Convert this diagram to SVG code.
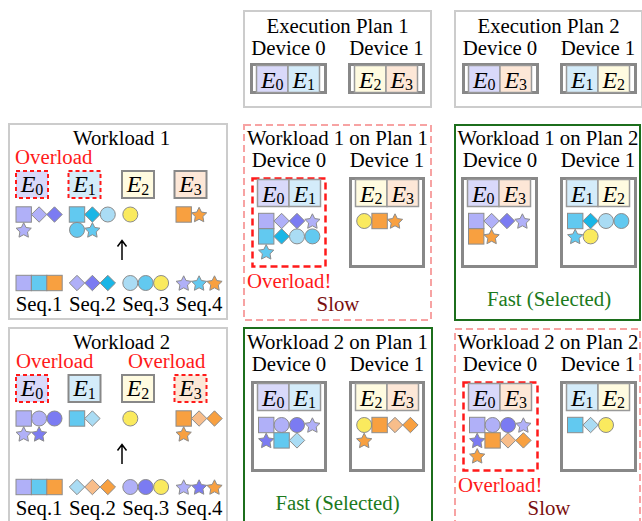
<svg xmlns="http://www.w3.org/2000/svg" xmlns:xlink="http://www.w3.org/1999/xlink" width="642" height="521" viewBox="0 0 642 521">
  <style>
    .t { font-family: "Liberation Serif", "Times New Roman", serif; font-size: 20.8px; fill: #000; }
    .mid { text-anchor: middle; }
    .red { fill: #ff1a1a; }
    .slow { fill: #7a0f0f; }
    .fast { fill: #1c7a1c; }
    .it { font-style: italic; font-size: 24px; }
    .sb { font-size: 16px; }
    .box { fill: #fff; stroke: #cccccc; stroke-width: 2; }
    .pink { fill: #fff; stroke: #f7a3a3; stroke-width: 2; stroke-dasharray: 7 4; }
    .green { fill: #fff; stroke: #1c6e1c; stroke-width: 2; }
    .dev { fill: #fff; stroke: #888; stroke-width: 3; }
    .devx { fill: #fff; stroke: #ff1a1a; stroke-width: 2.5; stroke-dasharray: 7 4; }
    .cell { stroke: #999; stroke-width: 1.5; }
    .ebox { stroke: #888; stroke-width: 2; }
    .ebx { stroke: #ff1a1a; stroke-width: 2; stroke-dasharray: 4 3; }
    .f0 { fill: #d9d9fa; }
    .f1 { fill: #d4ecfa; }
    .f2 { fill: #fffbe0; }
    .f3 { fill: #fde7d7; }
    .tok { stroke: #8c8c8c; stroke-width: 1; }
    .lav { fill: #b0b0f8; }
    .pur { fill: #7b7bf2; }
    .sky { fill: #62c9f0; }
    .cyn { fill: #1ab6e6; }
    .pale { fill: #aadcf4; }
    .yel { fill: #faea5e; }
    .org { fill: #f8a040; }
    .lor { fill: #f8bd8a; }
    .arr { fill: none; stroke: #000; stroke-width: 1.5; }
  </style>
  <defs>
    <rect id="sq" class="tok" x="-7.7" y="-7.7" width="15.4" height="15.4"/>
    <polygon id="dia" class="tok" points="0,-7.7 7.7,0 0,7.7 -7.7,0"/>
    <circle id="cir" class="tok" r="7.5"/>
    <polygon id="star" class="tok" transform="translate(0,0.8)" points="0,-8 2.35,-3.24 7.61,-2.47 3.8,1.24 4.7,6.47 0,4 -4.7,6.47 -3.8,1.24 -7.61,-2.47 -2.35,-3.24"/>
  </defs>

  <!-- execution plans -->
  <g id="plan1">
    <rect class="box" x="244" y="11" width="187" height="96"/>
    <text class="t mid" x="337.5" y="33">Execution Plan 1</text>
    <text class="t mid" x="288.5" y="55">Device 0</text>
    <text class="t mid" x="386.5" y="55">Device 1</text>
    <g transform="translate(250,63)">
      <rect class="dev" x="1.5" y="1.5" width="74" height="28"/>
      <rect class="cell f0" x="6.5" y="2.5" width="31.5" height="27"/>
      <rect class="cell f1" x="38" y="2.5" width="31.5" height="27"/>
      <text class="t mid" x="22.25" y="24.5"><tspan class="it">E</tspan><tspan class="sb" dy="2.5">0</tspan></text>
      <text class="t mid" x="53.75" y="24.5"><tspan class="it">E</tspan><tspan class="sb" dy="2.5">1</tspan></text>
    </g>
    <g transform="translate(348,63)">
      <rect class="dev" x="1.5" y="1.5" width="74" height="28"/>
      <rect class="cell f2" x="6.5" y="2.5" width="31.5" height="27"/>
      <rect class="cell f3" x="38" y="2.5" width="31.5" height="27"/>
      <text class="t mid" x="22.25" y="24.5"><tspan class="it">E</tspan><tspan class="sb" dy="2.5">2</tspan></text>
      <text class="t mid" x="53.75" y="24.5"><tspan class="it">E</tspan><tspan class="sb" dy="2.5">3</tspan></text>
    </g>
  </g>

  <g id="plan2">
    <rect class="box" x="455" y="11" width="187" height="96"/>
    <text class="t mid" x="548.5" y="33">Execution Plan 2</text>
    <text class="t mid" x="500" y="55">Device 0</text>
    <text class="t mid" x="598" y="55">Device 1</text>
    <g transform="translate(462,63)">
      <rect class="dev" x="1.5" y="1.5" width="74" height="28"/>
      <rect class="cell f0" x="6.5" y="2.5" width="31.5" height="27"/>
      <rect class="cell f3" x="38" y="2.5" width="31.5" height="27"/>
      <text class="t mid" x="22.25" y="24.5"><tspan class="it">E</tspan><tspan class="sb" dy="2.5">0</tspan></text>
      <text class="t mid" x="53.75" y="24.5"><tspan class="it">E</tspan><tspan class="sb" dy="2.5">3</tspan></text>
    </g>
    <g transform="translate(560,63)">
      <rect class="dev" x="1.5" y="1.5" width="74" height="28"/>
      <rect class="cell f1" x="6.5" y="2.5" width="31.5" height="27"/>
      <rect class="cell f2" x="38" y="2.5" width="31.5" height="27"/>
      <text class="t mid" x="22.25" y="24.5"><tspan class="it">E</tspan><tspan class="sb" dy="2.5">1</tspan></text>
      <text class="t mid" x="53.75" y="24.5"><tspan class="it">E</tspan><tspan class="sb" dy="2.5">2</tspan></text>
    </g>
  </g>

  <!-- workload 1 -->
  <g id="workload1">
    <rect class="box" x="9" y="124" width="218" height="195"/>
    <text class="t mid" x="121.5" y="145">Workload 1</text>
    <text class="t red" x="15" y="164">Overload</text>
    <rect class="ebx f0" x="16" y="171" width="32" height="27"/>
    <rect class="ebx f1" x="68.5" y="171" width="32" height="27"/>
    <rect class="ebox f2" x="122" y="171" width="32" height="27"/>
    <rect class="ebox f3" x="174.5" y="171" width="32" height="27"/>
    <text class="t mid" x="32" y="192"><tspan class="it">E</tspan><tspan class="sb" dy="2.5">0</tspan></text>
    <text class="t mid" x="84.5" y="192"><tspan class="it">E</tspan><tspan class="sb" dy="2.5">1</tspan></text>
    <text class="t mid" x="138" y="192"><tspan class="it">E</tspan><tspan class="sb" dy="2.5">2</tspan></text>
    <text class="t mid" x="190.5" y="192"><tspan class="it">E</tspan><tspan class="sb" dy="2.5">3</tspan></text>
    <!-- tokens routed to each expert -->
    <use href="#sq" x="23.7" y="214.5" class="lav"/>
    <use href="#dia" x="39.1" y="214.5" class="lav"/>
    <use href="#dia" x="54.5" y="214.5" class="pur"/>
    <use href="#star" x="23.7" y="229.9" class="lav"/>
    <use href="#sq" x="77" y="214.5" class="sky"/>
    <use href="#dia" x="92.4" y="214.5" class="cyn"/>
    <use href="#cir" x="107.8" y="214.5" class="pale"/>
    <use href="#cir" x="77" y="229.9" class="sky"/>
    <use href="#star" x="92.4" y="229.9" class="sky"/>
    <use href="#cir" x="130.3" y="214.5" class="yel"/>
    <use href="#sq" x="183.7" y="214.5" class="org"/>
    <use href="#star" x="199.1" y="214.5" class="org"/>
    <!-- input sequences -->
    <use href="#sq" x="23.7" y="283" class="lav"/>
    <use href="#sq" x="39.1" y="283" class="sky"/>
    <use href="#sq" x="54.5" y="283" class="org"/>
    <use href="#dia" x="77" y="283" class="lav"/>
    <use href="#dia" x="92.4" y="283" class="pur"/>
    <use href="#dia" x="107.8" y="283" class="cyn"/>
    <use href="#cir" x="130.3" y="283" class="pale"/>
    <use href="#cir" x="145.7" y="283" class="sky"/>
    <use href="#cir" x="161.1" y="283" class="yel"/>
    <use href="#star" x="183.7" y="283" class="lav"/>
    <use href="#star" x="199.1" y="283" class="sky"/>
    <use href="#star" x="214.5" y="283" class="org"/>
    <text class="t mid" x="39.1" y="311">Seq.1</text>
    <text class="t mid" x="92.4" y="311">Seq.2</text>
    <text class="t mid" x="145.7" y="311">Seq.3</text>
    <text class="t mid" x="199.1" y="311">Seq.4</text>
  </g>

  <!-- workload 2 -->
  <g id="workload2">
    <rect class="box" x="9" y="328" width="218" height="200"/>
    <text class="t mid" x="121.5" y="349">Workload 2</text>
    <text class="t red" x="16" y="368">Overload</text>
    <text class="t red" x="128" y="368">Overload</text>
    <rect class="ebx f0" x="16" y="375" width="32" height="27"/>
    <rect class="ebox f1" x="68.5" y="375" width="32" height="27"/>
    <rect class="ebox f2" x="122" y="375" width="32" height="27"/>
    <rect class="ebx f3" x="174.5" y="375" width="32" height="27"/>
    <text class="t mid" x="32" y="396"><tspan class="it">E</tspan><tspan class="sb" dy="2.5">0</tspan></text>
    <text class="t mid" x="84.5" y="396"><tspan class="it">E</tspan><tspan class="sb" dy="2.5">1</tspan></text>
    <text class="t mid" x="138" y="396"><tspan class="it">E</tspan><tspan class="sb" dy="2.5">2</tspan></text>
    <text class="t mid" x="190.5" y="396"><tspan class="it">E</tspan><tspan class="sb" dy="2.5">3</tspan></text>
    <use href="#sq" x="23.7" y="418.5" class="lav"/>
    <use href="#cir" x="39.1" y="418.5" class="lav"/>
    <use href="#cir" x="54.5" y="418.5" class="pur"/>
    <use href="#star" x="23.7" y="433.9" class="lav"/>
    <use href="#star" x="39.1" y="433.9" class="pur"/>
    <use href="#sq" x="77" y="418.5" class="sky"/>
    <use href="#dia" x="92.4" y="418.5" class="pale"/>
    <use href="#cir" x="130.3" y="418.5" class="yel"/>
    <use href="#sq" x="183.7" y="418.5" class="org"/>
    <use href="#dia" x="199.1" y="418.5" class="lor"/>
    <use href="#dia" x="214.5" y="418.5" class="org"/>
    <use href="#star" x="183.7" y="433.9" class="org"/>
    <use href="#sq" x="23.7" y="487" class="lav"/>
    <use href="#sq" x="39.1" y="487" class="sky"/>
    <use href="#sq" x="54.5" y="487" class="org"/>
    <use href="#dia" x="77" y="487" class="pale"/>
    <use href="#dia" x="92.4" y="487" class="lor"/>
    <use href="#dia" x="107.8" y="487" class="org"/>
    <use href="#cir" x="130.3" y="487" class="lav"/>
    <use href="#cir" x="145.7" y="487" class="pur"/>
    <use href="#cir" x="161.1" y="487" class="yel"/>
    <use href="#star" x="183.7" y="487" class="lav"/>
    <use href="#star" x="199.1" y="487" class="pur"/>
    <use href="#star" x="214.5" y="487" class="org"/>
    <text class="t mid" x="39.1" y="515">Seq.1</text>
    <text class="t mid" x="92.4" y="515">Seq.2</text>
    <text class="t mid" x="145.7" y="515">Seq.3</text>
    <text class="t mid" x="199.1" y="515">Seq.4</text>
  </g>

  <!-- workload 1 on plan 1 -->
  <g id="w1p1">
    <rect class="pink" x="244" y="125" width="187" height="195"/>
    <text class="t mid" x="337.5" y="145">Workload 1 on Plan 1</text>
    <text class="t mid" x="289" y="167">Device 0</text>
    <text class="t mid" x="387" y="167">Device 1</text>
    <g transform="translate(251,177)">
      <rect class="devx" x="1.5" y="1.5" width="73" height="88"/>
      <rect class="cell f0" x="6.5" y="2.5" width="31.5" height="27"/>
      <rect class="cell f1" x="38" y="2.5" width="31.5" height="27"/>
      <text class="t mid" x="22.25" y="24.5"><tspan class="it">E</tspan><tspan class="sb" dy="2.5">0</tspan></text>
      <text class="t mid" x="53.75" y="24.5"><tspan class="it">E</tspan><tspan class="sb" dy="2.5">1</tspan></text>
      <use href="#sq" x="15.2" y="44" class="lav"/>
      <use href="#dia" x="30.6" y="44" class="lav"/>
      <use href="#dia" x="46" y="44" class="pur"/>
      <use href="#star" x="61.4" y="44" class="lav"/>
      <use href="#sq" x="15.2" y="59.4" class="sky"/>
      <use href="#dia" x="30.6" y="59.4" class="cyn"/>
      <use href="#cir" x="46" y="59.4" class="pale"/>
      <use href="#cir" x="61.4" y="59.4" class="sky"/>
      <use href="#star" x="15.2" y="74.8" class="sky"/>
    </g>
    <g transform="translate(349,177)">
      <rect class="dev" x="1.5" y="1.5" width="73" height="88"/>
      <rect class="cell f2" x="6.5" y="2.5" width="31.5" height="27"/>
      <rect class="cell f3" x="38" y="2.5" width="31.5" height="27"/>
      <text class="t mid" x="22.25" y="24.5"><tspan class="it">E</tspan><tspan class="sb" dy="2.5">2</tspan></text>
      <text class="t mid" x="53.75" y="24.5"><tspan class="it">E</tspan><tspan class="sb" dy="2.5">3</tspan></text>
      <use href="#cir" x="15.2" y="44" class="yel"/>
      <use href="#sq" x="30.6" y="44" class="org"/>
      <use href="#star" x="46" y="44" class="org"/>
    </g>
    <text class="t red" x="247" y="288">Overload!</text>
    <text class="t mid slow" x="338" y="311">Slow</text>
  </g>

  <!-- workload 1 on plan 2 -->
  <g id="w1p2">
    <rect class="green" x="455" y="125" width="185" height="195"/>
    <text class="t mid" x="548" y="145">Workload 1 on Plan 2</text>
    <text class="t mid" x="500" y="167">Device 0</text>
    <text class="t mid" x="598" y="167">Device 1</text>
    <g transform="translate(461,177)">
      <rect class="dev" x="1.5" y="1.5" width="74" height="88"/>
      <rect class="cell f0" x="6.5" y="2.5" width="31.5" height="27"/>
      <rect class="cell f3" x="38" y="2.5" width="31.5" height="27"/>
      <text class="t mid" x="22.25" y="24.5"><tspan class="it">E</tspan><tspan class="sb" dy="2.5">0</tspan></text>
      <text class="t mid" x="53.75" y="24.5"><tspan class="it">E</tspan><tspan class="sb" dy="2.5">3</tspan></text>
      <use href="#sq" x="15.2" y="44" class="lav"/>
      <use href="#dia" x="30.6" y="44" class="lav"/>
      <use href="#dia" x="46" y="44" class="pur"/>
      <use href="#star" x="61.4" y="44" class="lav"/>
      <use href="#sq" x="15.2" y="59.4" class="org"/>
      <use href="#star" x="30.6" y="59.4" class="org"/>
    </g>
    <g transform="translate(560,177)">
      <rect class="dev" x="1.5" y="1.5" width="74" height="88"/>
      <rect class="cell f1" x="6.5" y="2.5" width="31.5" height="27"/>
      <rect class="cell f2" x="38" y="2.5" width="31.5" height="27"/>
      <text class="t mid" x="22.25" y="24.5"><tspan class="it">E</tspan><tspan class="sb" dy="2.5">1</tspan></text>
      <text class="t mid" x="53.75" y="24.5"><tspan class="it">E</tspan><tspan class="sb" dy="2.5">2</tspan></text>
      <use href="#sq" x="15.2" y="44" class="sky"/>
      <use href="#dia" x="30.6" y="44" class="cyn"/>
      <use href="#cir" x="46" y="44" class="pale"/>
      <use href="#cir" x="61.4" y="44" class="sky"/>
      <use href="#star" x="15.2" y="59.4" class="sky"/>
      <use href="#cir" x="30.6" y="59.4" class="yel"/>
    </g>
    <text class="t mid fast" x="549" y="306">Fast (Selected)</text>
  </g>

  <!-- workload 2 on plan 1 -->
  <g id="w2p1">
    <rect class="green" x="244" y="328" width="188" height="200"/>
    <text class="t mid" x="337.5" y="349">Workload 2 on Plan 1</text>
    <text class="t mid" x="289" y="371">Device 0</text>
    <text class="t mid" x="387" y="371">Device 1</text>
    <g transform="translate(251,381)">
      <rect class="dev" x="1.5" y="1.5" width="73" height="88"/>
      <rect class="cell f0" x="6.5" y="2.5" width="31.5" height="27"/>
      <rect class="cell f1" x="38" y="2.5" width="31.5" height="27"/>
      <text class="t mid" x="22.25" y="24.5"><tspan class="it">E</tspan><tspan class="sb" dy="2.5">0</tspan></text>
      <text class="t mid" x="53.75" y="24.5"><tspan class="it">E</tspan><tspan class="sb" dy="2.5">1</tspan></text>
      <use href="#sq" x="15.2" y="44" class="lav"/>
      <use href="#cir" x="30.6" y="44" class="lav"/>
      <use href="#cir" x="46" y="44" class="pur"/>
      <use href="#star" x="61.4" y="44" class="lav"/>
      <use href="#star" x="15.2" y="59.4" class="pur"/>
      <use href="#sq" x="30.6" y="59.4" class="sky"/>
      <use href="#dia" x="46" y="59.4" class="pale"/>
    </g>
    <g transform="translate(349,381)">
      <rect class="dev" x="1.5" y="1.5" width="73" height="88"/>
      <rect class="cell f2" x="6.5" y="2.5" width="31.5" height="27"/>
      <rect class="cell f3" x="38" y="2.5" width="31.5" height="27"/>
      <text class="t mid" x="22.25" y="24.5"><tspan class="it">E</tspan><tspan class="sb" dy="2.5">2</tspan></text>
      <text class="t mid" x="53.75" y="24.5"><tspan class="it">E</tspan><tspan class="sb" dy="2.5">3</tspan></text>
      <use href="#cir" x="15.2" y="44" class="yel"/>
      <use href="#sq" x="30.6" y="44" class="org"/>
      <use href="#dia" x="46" y="44" class="lor"/>
      <use href="#dia" x="61.4" y="44" class="org"/>
      <use href="#star" x="15.2" y="59.4" class="org"/>
    </g>
    <text class="t mid fast" x="337.5" y="510">Fast (Selected)</text>
  </g>

  <!-- workload 2 on plan 2 -->
  <g id="w2p2">
    <rect class="pink" x="455" y="329" width="185" height="200"/>
    <text class="t mid" x="548" y="349">Workload 2 on Plan 2</text>
    <text class="t mid" x="500" y="371">Device 0</text>
    <text class="t mid" x="598" y="371">Device 1</text>
    <g transform="translate(462,381)">
      <rect class="devx" x="1.5" y="1.5" width="74" height="88"/>
      <rect class="cell f0" x="6.5" y="2.5" width="31.5" height="27"/>
      <rect class="cell f3" x="38" y="2.5" width="31.5" height="27"/>
      <text class="t mid" x="22.25" y="24.5"><tspan class="it">E</tspan><tspan class="sb" dy="2.5">0</tspan></text>
      <text class="t mid" x="53.75" y="24.5"><tspan class="it">E</tspan><tspan class="sb" dy="2.5">3</tspan></text>
      <use href="#sq" x="15.2" y="44" class="lav"/>
      <use href="#cir" x="30.6" y="44" class="lav"/>
      <use href="#cir" x="46" y="44" class="pur"/>
      <use href="#star" x="61.4" y="44" class="lav"/>
      <use href="#star" x="15.2" y="59.4" class="pur"/>
      <use href="#sq" x="30.6" y="59.4" class="org"/>
      <use href="#dia" x="46" y="59.4" class="lor"/>
      <use href="#dia" x="61.4" y="59.4" class="org"/>
      <use href="#star" x="15.2" y="74.8" class="org"/>
    </g>
    <g transform="translate(560,381)">
      <rect class="dev" x="1.5" y="1.5" width="74" height="88"/>
      <rect class="cell f1" x="6.5" y="2.5" width="31.5" height="27"/>
      <rect class="cell f2" x="38" y="2.5" width="31.5" height="27"/>
      <text class="t mid" x="22.25" y="24.5"><tspan class="it">E</tspan><tspan class="sb" dy="2.5">1</tspan></text>
      <text class="t mid" x="53.75" y="24.5"><tspan class="it">E</tspan><tspan class="sb" dy="2.5">2</tspan></text>
      <use href="#sq" x="15.2" y="44" class="sky"/>
      <use href="#dia" x="30.6" y="44" class="pale"/>
      <use href="#cir" x="46" y="44" class="yel"/>
    </g>
    <text class="t red" x="458" y="492">Overload!</text>
    <text class="t mid slow" x="549" y="515">Slow</text>
  </g>

  <!-- routing arrows: sequences to experts -->
  <g id="connectors">
    <path class="arr" d="M122,260 V241 M117.5,246.5 L122,240.5 L126.5,246.5"/>
    <path class="arr" d="M122,464 V445 M117.5,450.5 L122,444.5 L126.5,450.5"/>
  </g>
</svg>
